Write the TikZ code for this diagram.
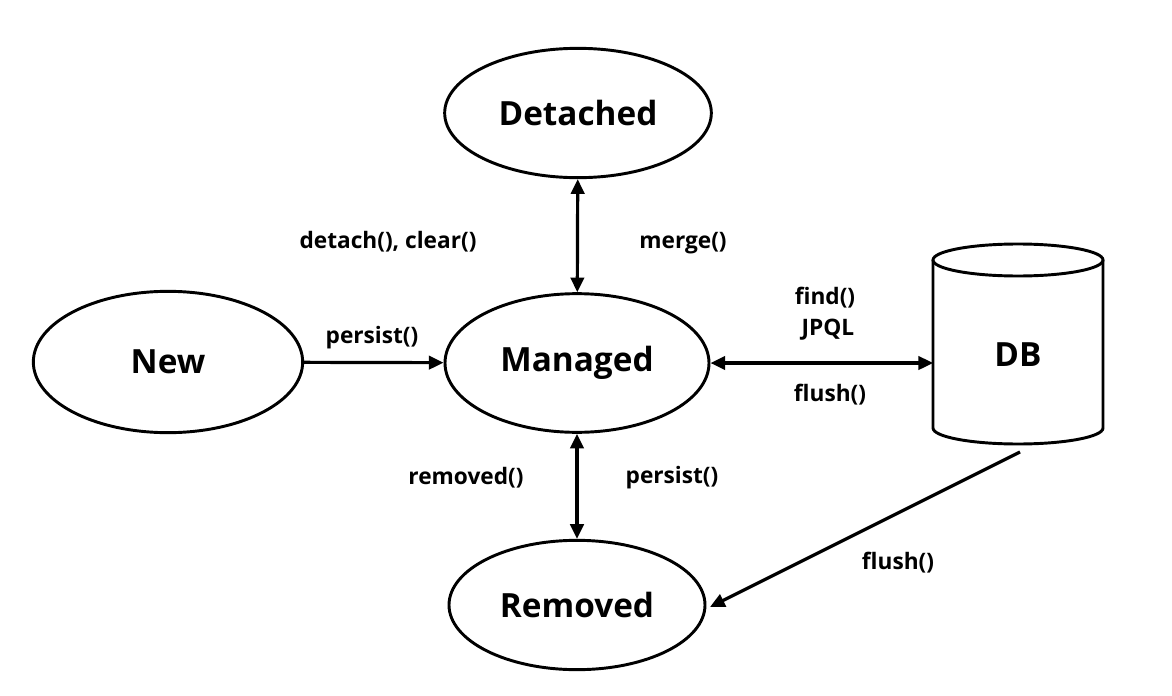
\documentclass[tikz,border=0pt]{standalone}
\usepackage{fontspec}
\setmainfont{Open Sans}
\usetikzlibrary{shapes.geometric,arrows.meta}
\begin{document}
\begin{tikzpicture}[x=0.75pt,y=-0.75pt,
 st/.style={ellipse,draw,line width=2.2pt,inner sep=0pt,font=\fontsize{25}{30}\selectfont\bfseries},
 lb/.style={font=\fontsize{17}{20}\selectfont\bfseries},
 ar/.style={line width=2.4pt,-{Triangle[length=11pt,width=10pt]}},
 dar/.style={line width=2.4pt,{Triangle[length=11pt,width=10pt]}-{Triangle[length=11pt,width=10pt]}}]
\useasboundingbox (0,0) rectangle (1172,696);
\node[st,minimum width=200pt,minimum height=97pt] (det) at (578,113) {Detached};
\node[st,minimum width=202pt,minimum height=106pt] (new) at (168,362) {New};
\node[st,minimum width=198pt,minimum height=104pt] (man) at (577,363) {Managed};
\node[st,minimum width=192pt,minimum height=97pt] (rem) at (577,605) {Removed};
% DB cylinder
\draw[line width=2.2pt] (1018,260) ellipse [x radius=85, y radius=16];
\draw[line width=2.2pt] (933,260) -- (933,428) arc[start angle=180,end angle=0,x radius=85,y radius=16] -- (1103,260);
\node[font=\fontsize{25}{30}\selectfont\bfseries,minimum width=127pt,minimum height=128pt] (db) at (1018,355) {DB};
\coordinate (dbb) at (1020,452);
\coordinate (rt) at (710,607);
\draw[dar] (det) -- (man);
\draw[ar] (new) -- (man);
\draw[dar] (man.east) -- (db.west |- man.east);
\draw[dar] (man) -- (rem);
\draw[ar] (dbb) -- (rt);
\node[lb] at (388,242) {detach(), clear()};
\node[lb] at (683,243) {merge()};
\node[lb] at (372,338) {persist()};
\node[lb] at (825,298) {find()};
\node[lb] at (828,330) {JPQL};
\node[lb] at (830,395) {flush()};
\node[lb] at (466,478) {removed()};
\node[lb] at (672,478) {persist()};
\node[lb] at (898,563) {flush()};
\end{tikzpicture}
\end{document}
